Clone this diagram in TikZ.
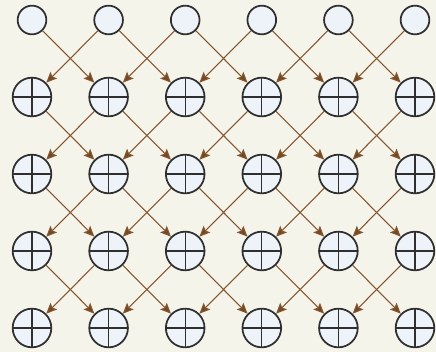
\documentclass[tikz,border=0pt]{standalone}
\usetikzlibrary{arrows.meta}
\definecolor{bg}{HTML}{F4F4EA}
\definecolor{nodefill}{HTML}{EEF3FA}
\definecolor{edgec}{HTML}{85562E}
\definecolor{rimc}{HTML}{2F2F2F}
\begin{document}
\begin{tikzpicture}[x=0.75pt,y=-0.75pt,
  topnode/.style={circle,draw=rimc,fill=nodefill,line width=1.3pt,minimum size=21.5pt,inner sep=0pt},
  plusnode/.style={circle,draw=rimc,fill=nodefill,line width=1.3pt,minimum size=29pt,inner sep=0pt,
    path picture={\draw[rimc,line width=1pt] (path picture bounding box.north) -- (path picture bounding box.south)
      (path picture bounding box.west) -- (path picture bounding box.east);}},
  link/.style={draw=edgec,line width=0.8pt,-{Stealth[length=8pt,width=7pt,inset=1.5pt,fill=edgec!85!black]}}]
\fill[bg] (0,0) rectangle (436,352);
\useasboundingbox (0,0) rectangle (436,352);
\foreach \c [evaluate=\c as \x using 32+76.6*\c] in {0,...,5} {
  \node[topnode] (n0\c) at (\x,20) {};
  \foreach \r [evaluate=\r as \y using 20+77*\r] in {1,...,4} {
    \node[plusnode] (n\r\c) at (\x,\y) {};
  }
}
\foreach \r [evaluate=\r as \s using int(\r+1)] in {0,...,3} {
  \foreach \c [evaluate=\c as \l using int(\c-1), evaluate=\c as \m using int(\c+1)] in {0,...,5} {
    \ifnum\c>0 \draw[link] (n\r\c) -- (n\s\l); \fi
    \ifnum\c<5 \draw[link] (n\r\c) -- (n\s\m); \fi
  }
}
\end{tikzpicture}
\end{document}
